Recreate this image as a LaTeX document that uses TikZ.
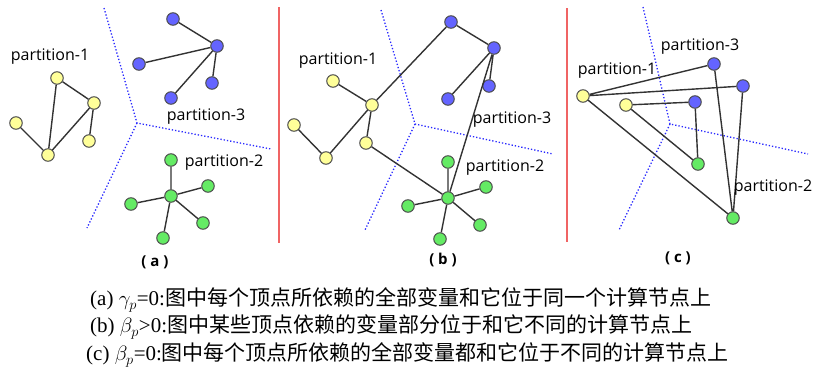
\documentclass[tikz,border=0pt]{standalone}
\usepackage{fontspec}
\setmainfont{Liberation Serif}
\newfontfamily\labfont{Open Sans}
\newfontfamily\cjk{Noto Sans CJK SC}
\definecolor{yellowv}{RGB}{255,255,153}
\definecolor{bluev}{RGB}{100,100,255}
\definecolor{greenv}{RGB}{100,235,100}
\definecolor{redv}{RGB}{240,100,100}
\definecolor{sepblue}{RGB}{40,40,255}
\begin{document}
\begin{tikzpicture}[x=1pt,y=-1pt,
  vtx/.style={circle,draw=black!70,line width=1pt,minimum size=12.5pt,inner sep=0pt},
  yv/.style={vtx,fill=yellowv},
  bv/.style={vtx,fill=bluev},
  gv/.style={vtx,fill=greenv},
  edge/.style={draw=black!80,line width=1.4pt},
  sep/.style={draw=sepblue,dotted,line width=1.3pt},
  redline/.style={draw=redv,line width=1.3pt},
  plab/.style={font=\labfont\fontsize{16}{18}\selectfont,inner sep=0pt},
  sublab/.style={font=\labfont\bfseries\fontsize{15}{17}\selectfont,inner sep=0pt},
  captxt/.style={anchor=west,inner sep=0pt,font=\fontsize{21}{23}\selectfont}
]
\useasboundingbox (0,0) rectangle (815,370);

% ---------- panel (a) ----------
\coordinate (ac) at (137,123);
\coordinate (at) at (104,8);
\coordinate (ar) at (271,149);
\coordinate (ab) at (87,228);
\draw[sep] (at) -- (ac) -- (ar);
\draw[sep] (ac) -- (ab);

\node[yv] (ay1) at (57,78) {};
\node[yv] (ay2) at (94,103) {};
\node[yv] (ay3) at (16,123) {};
\node[yv] (ay4) at (89,141) {};
\node[yv] (ay5) at (48,155) {};
\node[bv] (ab1) at (173,19) {};
\node[bv] (ab2) at (217,46) {};
\node[bv] (ab3) at (139,64) {};
\node[bv] (ab4) at (212,83) {};
\node[bv] (ab5) at (171,98) {};
\node[gv] (ag1) at (171,160) {};
\node[gv] (ag2) at (208,186) {};
\node[gv] (ag3) at (171,196) {};
\node[gv] (ag4) at (131,204) {};
\node[gv] (ag5) at (203,223) {};
\node[gv] (ag6) at (163,238) {};
\draw[edge] (ay1) -- (ay2) (ay1) -- (ay5) (ay2) -- (ay5) (ay2) -- (ay4) (ay3) -- (ay5);
\draw[edge] (ab2) -- (ab1) (ab2) -- (ab3) (ab2) -- (ab4) (ab2) -- (ab5);
\draw[edge] (ag3) -- (ag1) (ag3) -- (ag2) (ag3) -- (ag4) (ag3) -- (ag5) (ag3) -- (ag6);

\node[plab] (al1) at (50,57) {partition-1};
\node[plab] (al3) at (206,117) {partition-3};
\node[plab] (al2) at (224,163) {partition-2};
\node[sublab] (asub) at (155,262) {( a )};

% ---------- separator ----------
\coordinate (r1t) at (279,7);
\coordinate (r1b) at (279,243);
\draw[redline] (r1t) -- (r1b);

% ---------- panel (b) ----------
\coordinate (bc) at (415,124);
\coordinate (bt) at (381,10);
\coordinate (br) at (553,154);
\coordinate (bb) at (365,230);
\draw[sep] (bt) -- (bc) -- (br);
\draw[sep] (bc) -- (bb);

\node[yv] (by1) at (333,81) {};
\node[yv] (by2) at (372,105) {};
\node[yv] (by3) at (294,125) {};
\node[yv] (by4) at (366,143) {};
\node[yv] (by5) at (326,158) {};
\node[bv] (bb1) at (451,22) {};
\node[bv] (bb2) at (494,48) {};
\node[bv] (bb3) at (489,86) {};
\node[bv] (bb4) at (448,99) {};
\node[gv] (bg1) at (448,162) {};
\node[gv] (bg2) at (486,187) {};
\node[gv] (bg3) at (448,198) {};
\node[gv] (bg4) at (408,206) {};
\node[gv] (bg5) at (480,225) {};
\node[gv] (bg6) at (440,239) {};
\draw[edge] (by1) -- (by2) (by2) -- (by5) (by3) -- (by5) (by2) -- (by4) (by2) -- (bb1) (by4) -- (bg3);
\draw[edge] (bb1) -- (bb2) (bb2) -- (bb3) (bb2) -- (bb4) (bb2) -- (bg3);
\draw[edge] (bg3) -- (bg1) (bg3) -- (bg2) (bg3) -- (bg4) (bg3) -- (bg5) (bg3) -- (bg6);

\node[plab] (bl1) at (338,61) {partition-1};
\node[plab] (bl3) at (512,120) {partition-3};
\node[plab] (bl2) at (505,168) {partition-2};
\node[sublab] (bsub) at (443,260) {( b )};

% ---------- separator ----------
\coordinate (r2t) at (567,8);
\coordinate (r2b) at (567,242);
\draw[redline] (r2t) -- (r2b);

% ---------- panel (c) ----------
\coordinate (cc) at (670,124);
\coordinate (ct) at (643,7);
\coordinate (cr) at (808,154);
\coordinate (cb) at (619,230);
\draw[sep] (ct) -- (cc) -- (cr);
\draw[sep] (cc) -- (cb);

\node[yv] (cy1) at (583,96) {};
\node[yv] (cy2) at (626,105) {};
\node[bv] (cb1) at (714,64) {};
\node[bv] (cb2) at (743,86) {};
\node[bv] (cb3) at (695,102) {};
\node[gv] (cg1) at (698,164) {};
\node[gv] (cg2) at (733,218) {};
\draw[edge] (cy1) -- (cb1) (cy1) -- (cb2) (cy1) -- (cg2) (cy2) -- (cb3) (cy2) -- (cg1) (cb3) -- (cg1) (cb1) -- (cg2) (cb2) -- (cg2);

\node[plab] (cl3) at (700,47) {partition-3};
\node[plab] (cl1) at (617,71) {partition-1};
\node[plab] (cl2) at (773,188) {partition-2};
\node[sublab] (csub) at (678,258) {( c )};

% ---------- captions ----------
\node[captxt] (cap1) at (90,300) {(a) $\gamma_p$=0:{\cjk 图中每个顶点所依赖的全部变量和它位于同一个计算节点上}};
\node[captxt] (cap2) at (90,327) {(b) $\beta_p$>0:{\cjk 图中某些顶点依赖的变量部分位于和它不同的计算节点上}};
\node[captxt] (cap3) at (86,355) {(c) $\beta_p$=0:{\cjk 图中每个顶点所依赖的全部变量都和它位于不同的计算节点上}};
\end{tikzpicture}
\end{document}
